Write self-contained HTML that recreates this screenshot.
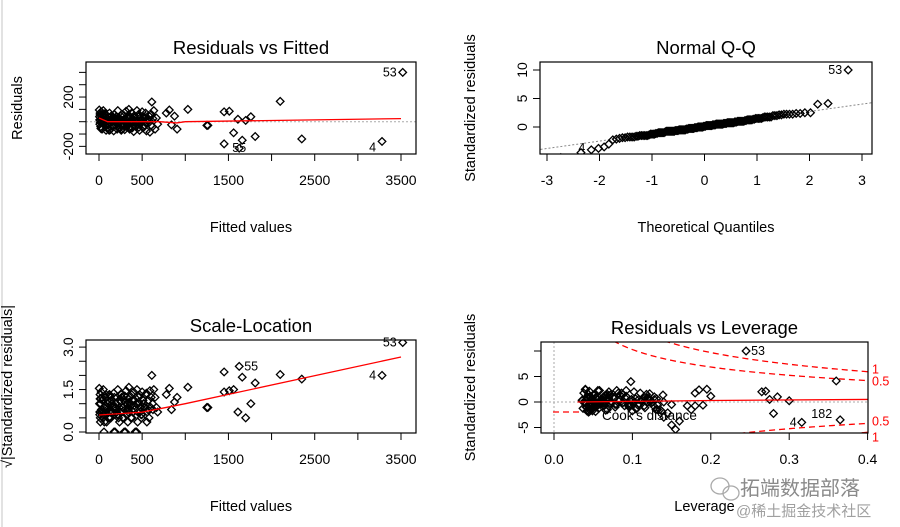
<!DOCTYPE html>
<html><head><meta charset="utf-8"><style>
html,body{margin:0;padding:0;background:#fff;width:900px;height:527px;overflow:hidden;}
svg{display:block;font-family:"Liberation Sans","Noto Sans CJK SC",sans-serif;}
</style></head><body>
<svg id="chart" width="900" height="527" viewBox="0 0 900 527">
<rect x="0" y="0" width="900" height="527" fill="#fff"/>
<line x1="2" y1="0" x2="2" y2="527" stroke="#d8d8d8" stroke-width="1.5"/>
</svg>
<script>
// ---- data ----
const fitted = [3,6,9,12,15,20,25,30,35,40,45,50,58,66,74,82,90,98,106,114,122,130,138,146,154,162,170,178,186,194,202,210,218,226,234,242,250,258,266,274,282,290,298,306,314,322,330,338,346,354,362,370,378,386,394,402,410,420,430,440,450,460,470,480,490,500,510,520,530,540,550,560,575,590,605,620,635,650,665,680,
780,815,840,875,905,1030,1250,1262,1450,1510,1450,1560,1610,1660,1700,1760,1810,2100,2350,3280,3520,1625,
8,16,28,44,62,78,94,110,126,142,158,174,190,206,222,238,254,270,286,302,318,334,350,366,382,398,414,435,455,475,495,515,535,555,580,600,625,12,52,88,132,168,212,248,292,328,372,408,448,488,528,568,612,22,68,118,262,342,462,548];
const resid = [95,40,-20,70,10,-40,80,20,-60,50,-10,90,0,-30,60,-70,30,-50,40,-20,70,-65,10,50,-40,20,-75,60,0,-30,40,-60,90,-10,30,-50,20,-70,60,10,-30,50,-65,0,85,-40,30,-20,100,-60,40,-10,70,-50,20,-80,50,0,-40,90,-20,60,-70,30,-10,80,-50,40,-30,70,-75,20,50,-85,60,-40,90,-60,30,-20,
70,95,-25,45,-60,100,-30,-30,80,85,-180,-90,20,-150,10,40,-120,165,-140,-160,400,-215,
15,-5,25,-15,5,35,-25,10,-10,20,-35,0,30,-20,15,-5,45,-30,10,25,-15,5,-45,35,-10,20,-25,0,40,-20,15,-40,30,-5,10,-30,25,55,-20,5,-10,30,-15,20,0,-25,10,35,-5,15,-30,25,160,-55,65,-70,-60,55,-45];
const leverage = [0.04,0.045,0.05,0.038,0.06,0.042,0.07,0.055,0.048,0.065,0.04,0.08,0.052,0.09,0.044,0.1,0.058,0.037,0.075,0.05,0.11,0.046,0.062,0.085,0.041,0.12,0.053,0.068,0.039,0.095,0.047,0.13,0.056,0.072,0.043,0.105,0.06,0.049,0.088,0.036,0.115,0.051,0.066,0.125,0.045,0.078,0.054,0.098,0.04,0.135,0.063,0.047,0.082,0.057,0.108,0.044,0.07,0.14,0.05,0.092,0.059,0.118,0.042,0.076,0.061,0.102,0.048,0.128,0.055,0.086,0.045,0.112,0.067,0.145,0.052,0.096,0.058,0.132,0.07,0.15,
0.18,0.185,0.19,0.2,0.175,0.195,0.17,0.18,0.265,0.27,0.15,0.28,0.275,0.16,0.3,0.285,0.14,0.36,0.365,0.316,0.245,0.155,
0.036,0.04,0.043,0.046,0.05,0.053,0.056,0.06,0.063,0.066,0.07,0.073,0.076,0.08,0.084,0.088,0.092,0.096,0.1,0.104,0.108,0.112,0.116,0.12,0.124,0.128,0.132,0.038,0.042,0.045,0.048,0.051,0.054,0.058,0.061,0.064,0.068,0.072,0.078,0.083,0.087,0.091,0.095,0.099,0.103,0.107,0.111,0.115,0.119,0.123,0.127,0.131,0.098,0.105,0.122,0.137,0.068,0.139,0.05];
const pointLabels = {"53":100,"4":99,"55":101,"182":98};
const sigma = 40;
const smooth1X = [0,100,700,900,1000,2000,3500];
const smooth1Y = [30,0,0,-10,0,10,25];
const smooth3X = [0,500,1000,3500];
const smooth3Y = [0.6,0.7,1.0,2.65];
const smooth4X = [0.03,0.2,0.4];
const smooth4Y = [0,0.3,0.5];
const xTicksFitted = [0,500,1000,1500,2000,2500,3000,3500];
const xLabelsFitted = ["0","500","","1500","","2500","","3500"];
const yTicks1 = [-200,-100,0,100,200,300,400];
const yLabels1 = ["-200","","","","200","",""];
const xTicksQQ = [-3,-2,-1,0,1,2,3];
const yTicksQQ = [0,5,10];
const yTicks3 = [0,0.5,1,1.5,2,2.5,3];
const yLabels3 = ["0.0","","","1.5","","","3.0"];
const xTicksLev = [0,0.1,0.2,0.3,0.4];
const xLabelsLev = ["0.0","0.1","0.2","0.3","0.4"];
const yTicksLev = [-5,0,5,10];
const yLabelsLev = ["-5","0","5",""];
const cookLevels = [0.5,1];
const pParams = 23.5;

// ---- helpers ----
const svg = document.getElementById('chart');
const NS = 'http://www.w3.org/2000/svg';
function mk(tag, attrs, parent){const e=document.createElementNS(NS,tag);for(const k in attrs)e.setAttribute(k,attrs[k]);(parent||svg).appendChild(e);return e;}
function txt(s, x, y, size, opts){opts=opts||{};const t=mk('text',{x:x,y:y,'font-size':size,'text-anchor':opts.anchor||'middle',fill:opts.fill||'#000'},opts.parent);if(opts.rot)t.setAttribute('transform','rotate(-90 '+x+' '+y+')');t.textContent=s;return t;}
function qnorm(p){const a=[-39.69683028665376,220.9460984245205,-275.9285104469687,138.357751867269,-30.66479806614716,2.506628277459239],b=[-54.47609879822406,161.5858368580409,-155.6989798598866,66.80131188771972,-13.28068155288572],c=[-0.007784894002430293,-0.3223964580411365,-2.400758277161838,-2.549732539343734,4.374664141464968,2.938163982698783],d=[0.007784695709041462,0.3224671290700398,2.445134137142996,3.754408661907416];let q,r;if(p<0.02425){q=Math.sqrt(-2*Math.log(p));return(((((c[0]*q+c[1])*q+c[2])*q+c[3])*q+c[4])*q+c[5])/((((d[0]*q+d[1])*q+d[2])*q+d[3])*q+1);}if(p>1-0.02425){q=Math.sqrt(-2*Math.log(1-p));return-(((((c[0]*q+c[1])*q+c[2])*q+c[3])*q+c[4])*q+c[5])/((((d[0]*q+d[1])*q+d[2])*q+d[3])*q+1);}q=p-0.5;r=q*q;return(((((a[0]*r+a[1])*r+a[2])*r+a[3])*r+a[4])*r+a[5])*q/(((((b[0]*r+b[1])*r+b[2])*r+b[3])*r+b[4])*r+1);}

function panel(cfg){
  const g = mk('g',{});
  
  
  const [L,T,R,B] = cfg.box;
  const clipId = cfg.name+'-clip';
  const cp = mk('clipPath',{id:clipId},g); mk('rect',{x:L,y:T,width:R-L,height:B-T},cp);
  const plot = mk('g',{'clip-path':'url(#'+clipId+')'},g);
  const t = txt(cfg.title,(L+R)/2,T-8,18.5,{parent:g});
  
  
  const xa = mk('g',{},g);
  
  
  cfg.xTicks.forEach((v,i)=>{const x=cfg.sx(v);mk('line',{x1:x,y1:B,x2:x,y2:B+7,stroke:'#000'},xa);const lab=cfg.xLabels[i];if(lab)txt(lab,x,B+31,14,{parent:xa});});
  mk('line',{x1:cfg.sx(cfg.xTicks[0]),y1:B,x2:cfg.sx(cfg.xTicks[cfg.xTicks.length-1]),y2:B,stroke:'#000'},xa);
  const xt = txt(cfg.xTitle,(L+R)/2,B+78,14.5,{parent:g});
  
  
  const ya = mk('g',{},g);
  
  
  cfg.yTicks.forEach((v,i)=>{const y=cfg.sy(v);mk('line',{x1:L,y1:y,x2:L-7,y2:y,stroke:'#000'},ya);const lab=cfg.yLabels[i];if(lab)txt(lab,L-13,y,14,{parent:ya,rot:true});});
  mk('line',{x1:L,y1:cfg.sy(cfg.yTicks[0]),x2:L,y2:cfg.sy(cfg.yTicks[cfg.yTicks.length-1]),stroke:'#000'},ya);
  const yt = txt(cfg.yTitle,cfg.yTitleX,(T+B)/2,14.5,{parent:g,rot:true});
  
  
  cfg.extra && cfg.extra(plot,g);
  const pts = mk('g',{},plot);
  
  
  cfg.px.forEach((vx,i)=>{const x=cfg.sx(vx),y=cfg.sy(cfg.py[i]);const d=mk('path',{d:`M${x-3.8},${y}L${x},${y-3.8}L${x+3.8},${y}L${x},${y+3.8}Z`,fill:'none',stroke:'#000','stroke-width':1.3},pts);});
  if(cfg.smX){const s=mk('polyline',{points:cfg.smX.map((v,i)=>cfg.sx(v)+','+cfg.sy(cfg.smY[i])).join(' '),fill:'none',stroke:'#ff0000','stroke-width':1.3},plot);}
  (cfg.labels||[]).forEach(l=>{const i=pointLabels[l.id];const x=cfg.sx(cfg.px[i])+l.dx,y=Math.min(B-2,cfg.sy(cfg.py[i])+l.dy);const tt=txt(l.id,x,y,12.5,{parent:g,anchor:l.anchor});});
  mk('rect',{x:L,y:T,width:R-L,height:B-T,fill:'none',stroke:'#000','stroke-width':1.2},g);
}

const sxF = v=>99+v*302/3500;
const stdr = resid.map(r=>r/sigma);
panel({name:'residuals-vs-fitted',box:[86,62,416,154],title:'Residuals vs Fitted',xTitle:'Fitted values',yTitle:'Residuals',yTitleX:22,
 sx:sxF,sy:v=>121.7-v*0.1233,xTicks:xTicksFitted,xLabels:xLabelsFitted,yTicks:yTicks1,yLabels:yLabels1,
 px:fitted,py:resid,smX:smooth1X,smY:smooth1Y,
 extra:(p)=>{mk('line',{x1:86,y1:121.7,x2:416,y2:121.7,stroke:'#aaa','stroke-dasharray':'2,2'},p);},
 labels:[{id:'53',dx:-6,dy:4,anchor:'end'},{id:'4',dx:-6,dy:10,anchor:'end'},{id:'55',dx:0,dy:10,anchor:'middle'}]});

const order = stdr.map((v,i)=>i).sort((a,b)=>stdr[a]-stdr[b]);
const n = stdr.length;
const theo = new Array(n), samp = new Array(n);
order.forEach((idx,k)=>{theo[idx]=qnorm((k+0.5)/n);samp[idx]=stdr[idx];});
const sorted = order.map(i=>stdr[i]);
const q1=sorted[Math.floor(0.25*n)], q3=sorted[Math.floor(0.75*n)];
const slope=(q3-q1)/(qnorm(0.75)-qnorm(0.25)), icpt=q1-slope*qnorm(0.25);
const sxQ=q=>704.5+q*52.5, syQ=s=>127-s*5.7;
panel({name:'normal-qq',box:[540,62,872,154],title:'Normal Q-Q',xTitle:'Theoretical Quantiles',yTitle:'Standardized residuals',yTitleX:475,
 sx:sxQ,sy:syQ,xTicks:xTicksQQ,xLabels:xTicksQQ.map(String),yTicks:yTicksQQ,yLabels:yTicksQQ.map(String),
 px:theo,py:samp,
 extra:(p)=>{mk('line',{x1:sxQ(-3.5),y1:syQ(icpt-3.5*slope),x2:sxQ(3.5),y2:syQ(icpt+3.5*slope),stroke:'#888','stroke-dasharray':'2,2'},p);},
 labels:[{id:'53',dx:-6,dy:4,anchor:'end'},{id:'4',dx:-6,dy:4,anchor:'end'}]});

panel({name:'scale-location',box:[86,340,416,433],title:'Scale-Location',xTitle:'Fitted values',yTitle:'√|Standardized residuals|',yTitleX:12,
 sx:sxF,sy:v=>432-v*28.3,xTicks:xTicksFitted,xLabels:xLabelsFitted,yTicks:yTicks3,yLabels:yLabels3,
 px:fitted,py:stdr.map(s=>Math.sqrt(Math.abs(s))),smX:smooth3X,smY:smooth3Y,
 labels:[{id:'53',dx:-6,dy:4,anchor:'end'},{id:'4',dx:-6,dy:4,anchor:'end'},{id:'55',dx:5,dy:4,anchor:'start'}]});

const sxL=h=>554+h*784, syL=s=>402-s*5.1;
panel({name:'residuals-vs-leverage',box:[541,342,868,433],title:'Residuals vs Leverage',xTitle:'Leverage',yTitle:'Standardized residuals',yTitleX:475,
 sx:sxL,sy:syL,xTicks:xTicksLev,xLabels:xLabelsLev,yTicks:yTicksLev,yLabels:yLabelsLev,
 px:leverage,py:stdr,smX:smooth4X,smY:smooth4Y,
 extra:(p,g)=>{
  mk('line',{x1:541,y1:402,x2:868,y2:402,stroke:'#aaa','stroke-dasharray':'2,2'},p);
  mk('line',{x1:554,y1:342,x2:554,y2:433,stroke:'#aaa','stroke-dasharray':'2,2'},p);
  cookLevels.forEach(c=>{[1,-1].forEach(sg=>{const pts=[];for(let h=0.01;h<=0.42;h+=0.005){pts.push(sxL(h)+','+syL(sg*Math.sqrt(c*pParams*(1-h)/h)));}
   const pl=mk('polyline',{points:pts.join(' '),fill:'none',stroke:'#ff0000','stroke-width':1.3,'stroke-dasharray':'6,4'},p);
   
   
   const yv=syL(sg*Math.sqrt(c*pParams*0.6/0.4));
   const tl=txt(c===1?'1':'0.5',872,yv+(c===1?(sg>0?2:9):(sg>0?5:2)),12.5,{parent:g,anchor:'start',fill:'#ff0000'});
   
   });});
  const lg=mk('g',{},g);
  
  
  mk('line',{x1:553,y1:412,x2:582,y2:412,stroke:'#ff0000','stroke-width':1.3,'stroke-dasharray':'6,4'},lg);
  txt("Cook's distance",602,420,13.5,{parent:lg,anchor:'start'});
 },
 labels:[{id:'53',dx:5,dy:4,anchor:'start'},{id:'4',dx:-5,dy:4,anchor:'end'},{id:'182',dx:-8,dy:-2,anchor:'end'}]});

const wm=mk('g',{fill:'#9a9a9a'});


mk('ellipse',{cx:720,cy:486,rx:9,ry:8,fill:'none',stroke:'#aaa','stroke-width':1.3},wm);
mk('ellipse',{cx:731,cy:493,rx:8,ry:7,fill:'none',stroke:'#aaa','stroke-width':1.3},wm);
txt('拓端数据部落',740,495,20,{parent:wm,anchor:'start',fill:'#8a8a8a'});
txt('@稀土掘金技术社区',736,516,15,{parent:wm,anchor:'start',fill:'#a0a0a0'});
</script>
</body></html>
